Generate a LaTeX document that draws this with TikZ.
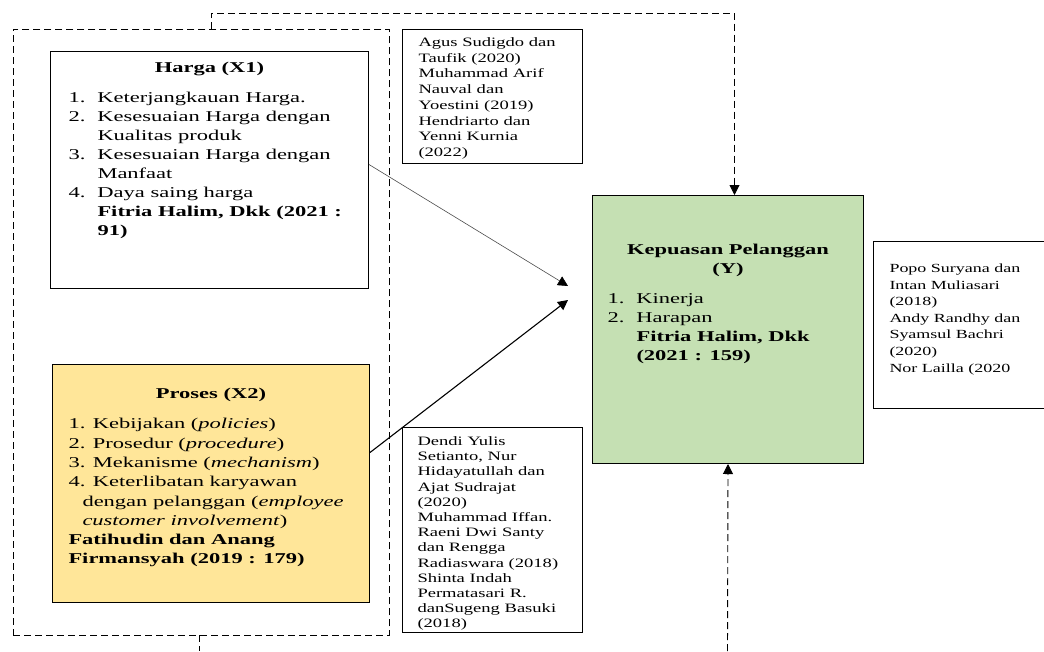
\documentclass[tikz,border=0pt]{standalone}
\usepackage{fontspec}
\setmainfont{Liberation Serif}[FakeStretch=1.5]
\newfontfamily\reffont{Liberation Serif}[FakeStretch=1.45]
\usetikzlibrary{arrows.meta,positioning}
\definecolor{hijau}{HTML}{C5E0B3}
\definecolor{kuning}{HTML}{FFE699}
% nomor butir di depan baris
\newcommand{\nomor}[1]{\leavevmode\llap{\makebox[29pt][l]{#1}}}

\begin{document}
\begin{tikzpicture}[x=1pt,y=-1pt,
    kotak/.style={draw, line width=1pt, inner sep=0pt, anchor=north west},
    putus/.style={line width=0.9pt, dash pattern=on 7pt off 4pt},
    panah/.style={-{Triangle[length=10pt,width=10pt]}}]
  \path[fill=white, use as bounding box] (0,0) rectangle (1044,651);

  % kelompok variabel bebas
  \node[draw, putus, minimum width=376pt, minimum height=606pt,
        inner sep=0pt, anchor=north west] (grp) at (13,29) {};

  \node[kotak] (harga) at (50,51) {\parbox[c][237pt][t]{318pt}{%
      \fontsize{15}{19}\selectfont
      \centering\rule{0pt}{20.7pt}\textbf{Harga (X1)}\par
      \vspace{11pt}\raggedright\leftskip=47pt
      \nomor{1.}Keterjangkauan Harga.\\
      \nomor{2.}Kesesuaian Harga dengan\\
      Kualitas produk\\
      \nomor{3.}Kesesuaian Harga dengan\\
      Manfaat\\
      \nomor{4.}Daya saing harga\\
      \textbf{Fitria Halim, Dkk (2021 :}\\
      \textbf{91)}\par}};

  \node[kotak, fill=kuning] (proses) at (52,364) {\parbox[c][238pt][t]{317pt}{%
      \fontsize{15}{19.3}\selectfont
      \centering\rule{0pt}{34pt}\textbf{Proses (X2)}\par
      \vspace{11pt}\raggedright\leftskip=16pt
      1. Kebijakan (\textit{policies})\\
      2. Prosedur (\textit{procedure})\\
      3. Mekanisme (\textit{mechanism})\\
      4. Keterlibatan karyawan\\
      \hspace*{14pt}dengan pelanggan (\textit{employee}\\
      \hspace*{14pt}\textit{customer involvement})\\
      \textbf{Fatihudin dan Anang}\\
      \textbf{Firmansyah (2019 : 179)}\par}};

  \node[kotak, fill=hijau] (kepuasan) at (592,195) {\parbox[c][268pt][t]{271pt}{%
      \fontsize{15}{19}\selectfont
      \centering\rule{0pt}{59pt}\textbf{Kepuasan Pelanggan}\\
      \textbf{(Y)}\par
      \vspace{11pt}\raggedright\leftskip=44pt
      \nomor{1.}Kinerja\\
      \nomor{2.}Harapan\\
      \textbf{Fitria Halim, Dkk}\\
      \textbf{(2021 : 159)}\par}};

  % rujukan
  \node[kotak] (ref1) at (402,29) {\parbox[c][134pt][t]{180pt}{%
      \reffont\fontsize{12.8}{15.7}\selectfont
      \raggedright\leftskip=16pt
      \rule{0pt}{17pt}Agus Sudigdo dan\\
      Taufik (2020)\\
      Muhammad Arif\\
      Nauval dan\\
      Yoestini (2019)\\
      Hendriarto dan\\
      Yenni Kurnia\\
      (2022)\par}};

  \node[kotak] (ref2) at (402,427) {\parbox[c][205pt][t]{180pt}{%
      \reffont\fontsize{12.8}{15.2}\selectfont
      \raggedright\leftskip=15pt
      \rule{0pt}{18pt}Dendi Yulis\\
      Setianto, Nur\\
      Hidayatullah dan\\
      Ajat Sudrajat\\
      (2020)\\
      Muhammad Iffan.\\
      Raeni Dwi Santy\\
      dan Rengga\\
      Radiaswara (2018)\\
      Shinta Indah\\
      Permatasari R.\\
      danSugeng Basuki\\
      (2018)\par}};

  \node[kotak] (ref3) at (873,241) {\parbox[c][167pt][t]{173pt}{%
      \reffont\fontsize{12.4}{16.6}\selectfont
      \raggedright\leftskip=16pt
      \rule{0pt}{31pt}Popo Suryana dan\\
      Intan Muliasari\\
      (2018)\\
      Andy Randhy dan\\
      Syamsul Bachri\\
      (2020{\large)}\\
      Nor Lailla (2020\par}};

  % panah pengaruh
  \coordinate (ujung1) at (568,286);
  \coordinate (ujung2) at (568,300);
  \draw[line width=0.6pt, gray!60!black, -{Triangle[length=10pt,width=10pt,black]}]
    ([yshift=5.5pt]harga.east) -- (ujung1);
  \draw[line width=1.1pt, panah] ([yshift=31pt]proses.east) -- (ujung2);

  % garis putus-putus
  \coordinate (tekuk) at (211,29);
  \draw[putus, panah] (tekuk) -- ++(0,-16) -| ([xshift=6.5pt]kepuasan.north);
  \coordinate (bawahA) at (199,635);
  \coordinate (bawahB) at (199,651);
  \draw[putus] (bawahA) -- (bawahB);
  \coordinate (bawahC) at (727.5,651);
  \draw[putus, panah] (bawahC) -- (kepuasan.south);
\end{tikzpicture}
\end{document}
